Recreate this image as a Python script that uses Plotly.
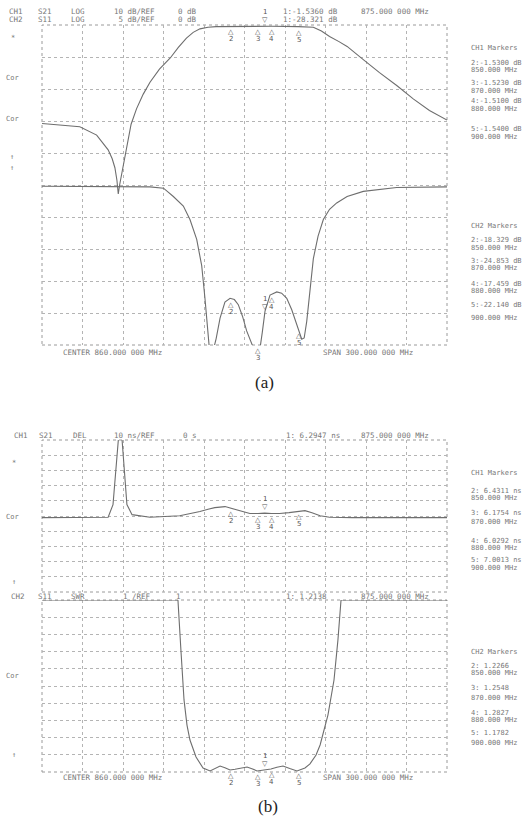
import numpy as np
import plotly.graph_objects as go

W, H = 532, 820

# ---------------- data ----------------
f_start, f_stop = 710.0, 1010.0          # CENTER 860 MHz, SPAN 300 MHz
marker_freqs = [875, 850, 870, 880, 900]
marker_names = ["1", "2", "3", "4", "5"]

# (a) CH1 S21 LOG 10 dB/div
freq_s21_a = [710, 738, 750.5, 759, 762, 764, 765.5, 766.5, 767.5, 769, 772.7, 776, 780, 785, 790, 797,
              805, 811, 817, 822, 827, 833, 839, 860, 880, 900, 911, 917, 923, 930, 936, 948,
              960, 973, 985, 997, 1010]
s21_a = [-30.8, -31.8, -34.4, -39.0, -41.8, -44.6, -48.5, -52.8, -50.0, -46.7, -37.4, -31.0, -26.2, -21.6,
         -17.9, -13.8, -10.3, -7.0, -4.1, -2.3, -1.2, -0.7, -0.5, -0.4, -0.4, -0.5, -0.7, -1.9, -3.6, -5.2,
         -6.7, -10.8, -14.9, -19.0, -23.1, -26.7, -29.7]

# (a) CH2 S11 LOG 5 dB/div
freq_s11_a = [710, 760, 790, 800, 807.3, 814.7, 819.6, 824.6, 828.3, 830.7, 832.5, 834, 836.9, 839,
              841.9, 845.5, 849.3, 852.5, 855.4, 858.5, 861.6, 864.5, 866.5, 869, 871.5, 873.2, 875.2,
              878.9, 883.9, 887.5, 891.3, 895, 898.7, 902.4, 904.2, 906.1, 908.5, 911, 914.5, 918.4,
              923, 928.3, 936, 948, 972.7, 1010]
s11_a = [-0.2, -0.2, -0.3, -0.5, -1.8, -3.3, -5.4, -8.5, -12.6, -17.7, -22.5, -25.6, -25.8, -24.0,
         -20.8, -18.3, -17.7, -17.9, -18.7, -20.5, -22.8, -24.4, -25.4, -25.8, -25.5, -23.0, -19.7,
         -17.2, -16.7, -16.9, -17.7, -19.5, -21.8, -24.1, -23.9, -21.3, -16.5, -11.5, -8.0, -5.4,
         -3.8, -2.8, -1.8, -1.0, -0.4, -0.3]

# (b) CH1 S21 DELAY 10 ns/div
freq_gd_b = [710, 740, 759, 762.6, 764.8, 767, 768.9, 770.7, 772.9, 776.7, 790, 812, 820, 827, 833,
             838, 845.6, 853, 860, 864, 870, 875, 880, 886, 893, 898, 904.8, 910, 916, 923, 940, 970, 1010]
gd_b = [5.9, 5.9, 6.2, 14.5, 37.5, 62.0, 62.0, 37.5, 14.5, 7.9, 6.2, 7.2, 8.4, 9.9, 11.5,
        12.5, 13.2, 11.2, 9.2, 8.6, 8.6, 8.9, 8.6, 8.6, 9.2, 9.9, 10.5, 9.2, 7.2, 6.2, 5.9, 5.9, 5.9]

# (b) CH2 S11 SWR 1/div
freq_swr_b = [710, 760, 805, 810.7, 812.9, 815.2, 817.4, 819.6, 824.1, 829.3, 834.5, 838, 841.9, 845.5,
              849.3, 853, 856.7, 861.9, 866, 869.3, 874.4, 879.6, 884, 888.5, 893.5, 898.9, 904.8,
              908.5, 913, 916, 921.8, 926.3, 929.2, 931.5, 960, 1010]
swr_b = [11, 11, 11, 11, 8.09, 5.19, 3.73, 2.86, 1.87, 1.23, 1.06, 1.2, 1.35, 1.25,
         1.12, 1.16, 1.23, 1.29, 1.18, 1.06, 1.12, 1.17, 1.28, 1.35, 1.2, 1.06, 1.23,
         1.47, 1.99, 2.57, 4.31, 6.35, 8.67, 11, 11, 11]

# text content
hdr_a1 = ["CH1", "S21", "LOG", "10 dB/REF", "0 dB", "1:-1.5360 dB", "875.000 000 MHz"]
hdr_a2 = ["CH2", "S11", "LOG", " 5 dB/REF", "0 dB", "1:-28.321 dB"]
hdr_b1 = ["CH1", "S21", "DEL", "10 ns/REF", "0 s", "1: 6.2947 ns", "875.000 000 MHz"]
hdr_b2 = ["CH2", "S11", "SWR", "1 /REF", "1", "1: 1.2138", "875.000 000 MHz"]
center_txt = "CENTER 860.000 000 MHz"
span_txt = "SPAN 300.000 000 MHz"

tab_a_ch1 = ["CH1 Markers", "2:-1.5300 dB", "850.000 MHz", "3:-1.5230 dB", "870.000 MHz",
             "4:-1.5100 dB", "880.000 MHz", "5:-1.5400 dB", "900.000 MHz"]
tab_a_ch2 = ["CH2 Markers", "2:-18.329 dB", "850.000 MHz", "3:-24.853 dB", "870.000 MHz",
             "4:-17.459 dB", "880.000 MHz", "5:-22.140 dB", "900.000 MHz"]
tab_b_ch1 = ["CH1 Markers", "2: 6.4311 ns", "850.000 MHz", "3: 6.1754 ns", "870.000 MHz",
             "4: 6.0292 ns", "880.000 MHz", "5: 7.0013 ns", "900.000 MHz"]
tab_b_ch2 = ["CH2 Markers", "2: 1.2266", "850.000 MHz", "3: 1.2548", "870.000 MHz",
             "4: 1.2827", "880.000 MHz", "5: 1.1782", "900.000 MHz"]

# ---------------- styling / layout ----------------
TR = "#6e6e6e"
GRID = "#b4b4b4"
TXT = "#777777"
MONO = "DejaVu Sans Mono"

fig = go.Figure()
fig.add_trace(go.Scatter(x=freq_s21_a, y=s21_a, xaxis="x", yaxis="y", mode="lines",
                         line=dict(color=TR, width=1.1), showlegend=False))
fig.add_trace(go.Scatter(x=freq_s11_a, y=s11_a, xaxis="x", yaxis="y2", mode="lines",
                         line=dict(color=TR, width=1.1), showlegend=False))
fig.add_trace(go.Scatter(x=freq_gd_b, y=gd_b, xaxis="x2", yaxis="y3", mode="lines",
                         line=dict(color=TR, width=1.1), showlegend=False))
fig.add_trace(go.Scatter(x=freq_swr_b, y=swr_b, xaxis="x3", yaxis="y4", mode="lines",
                         line=dict(color=TR, width=1.1), showlegend=False))

xdom = [42 / W, 447 / W]


def py(ypx):
    return 1 - ypx / H


def xax(anchor):
    return dict(domain=xdom, range=[f_start, f_stop], anchor=anchor, tick0=f_start, dtick=30,
                showgrid=True, gridcolor=GRID, griddash="dot", gridwidth=1,
                showticklabels=False, ticks="", zeroline=False, showline=False, fixedrange=True)


def yax(dom, rng, dtick, tick0, anchor, grid=True):
    return dict(domain=dom, range=rng, anchor=anchor, tick0=tick0, dtick=dtick,
                showgrid=grid, gridcolor=GRID, griddash="dot", gridwidth=1,
                showticklabels=False, ticks="", zeroline=False, showline=False, fixedrange=True)


layout = dict(
    width=W, height=H, margin=dict(l=0, r=0, t=0, b=0),
    paper_bgcolor="white", plot_bgcolor="white", showlegend=False,
    xaxis=xax("y"),
    yaxis=yax([py(345), py(25)], [-100, 0], 10, 0, "x"),
    yaxis2=dict(yax([py(345), py(25)], [-25, 25], 5, 0, "x", grid=False), overlaying="y"),
    xaxis2=xax("y3"),
    yaxis3=yax([py(592), py(440)], [-43, 57], 10, -43, "x2"),
    xaxis3=xax("y4"),
    yaxis4=yax([py(772), py(600)], [1, 11], 1, 1, "x3"),
)
fig.update_layout(**layout)

# grid borders
for xr, yr in [("x", "y"), ("x2", "y3"), ("x3", "y4")]:
    fig.add_shape(type="rect", xref=xr + " domain", yref=yr + " domain", x0=0, x1=1, y0=0, y1=1,
                  line=dict(color="#9a9a9a", width=1, dash="dot"), layer="below")

ann = []


def t(s, xpx, ypx, size=7, anchor="left", color=TXT, family=MONO):
    ann.append(dict(text=s, x=xpx / W, y=py(ypx), xref="paper", yref="paper", showarrow=False,
                    xanchor=anchor, yanchor="middle", borderpad=0,
                    font=dict(family=family, size=size, color=color)))


# headers
for s, x in zip(hdr_a1, [8, 37, 70, 113, 177, 282, 360]):
    t(s, x, 11, size=7.5)
for s, x in zip(hdr_a2, [8, 37, 70, 113, 177, 282]):
    t(s, x, 19, size=7.5)
for s, x in zip(hdr_b1, [13, 38, 72, 113, 182, 285, 360]):
    t(s, x, 435, size=7.5)
for s, x in zip(hdr_b2, [10, 37, 70, 122, 175, 285, 360]):
    t(s, x, 596, size=7.5)

# center / span
for yv in (353, 777):
    t(center_txt, 62, yv, size=7.5)
    t(span_txt, 322, yv, size=7.5)

# left annotations
for s, x, yv in [("*", 10, 38), ("Cor", 5, 78), ("Cor", 5, 119), ("\u2191", 9, 157), ("\u2191", 9, 168),
                 ("*", 11, 463), ("Cor", 5, 517), ("\u2191", 11, 582), ("Cor", 5, 676), ("\u2191", 11, 755)]:
    t(s, x, yv)

# marker tables
for tab, ys in [(tab_a_ch1, [48, 63, 70, 83, 91, 101, 109, 129, 137]),
                (tab_a_ch2, [226, 240, 248, 261, 268, 284, 291, 305, 318]),
                (tab_b_ch1, [473, 491, 498, 513, 522, 541, 548, 560, 568]),
                (tab_b_ch2, [652, 666, 673, 688, 698, 713, 720, 733, 743])]:
    for s, yv in zip(tab, ys):
        t(s, 470, yv, size=7)

# captions
t("(a)", 264, 382, size=17, anchor="center", color="#222", family="Liberation Serif")
t("(b)", 268, 806, size=17, anchor="center", color="#222", family="Liberation Serif")


# trace markers (positions from data via interpolation)
def add_markers(freqs, vals, xr, yr, rng):
    for name, f in zip(marker_names, marker_freqs):
        v = float(np.clip(np.interp(f, freqs, vals), rng[0], rng[1]))
        if name == "1":
            items = [("\u25BD", 6), ("1", 14)]
        else:
            items = [("\u25B3", -6), (name, -13)]
        for s, sh in items:
            ann.append(dict(text=s, x=f, y=v, xref=xr, yref=yr, showarrow=False, yshift=sh,
                            xanchor="center", yanchor="middle",
                            font=dict(family="DejaVu Sans", size=7, color="#555")))


add_markers(freq_s21_a, s21_a, "x", "y", [-100, 0])
add_markers(freq_s11_a, s11_a, "x", "y2", [-25, 25])
add_markers(freq_gd_b, gd_b, "x2", "y3", [-43, 57])
add_markers(freq_swr_b, swr_b, "x3", "y4", [1, 11])

fig.update_layout(annotations=ann)
fig.write_html(
    "out.html",
    config={"displayModeBar": False},
    post_script="document.body.style.margin='0';document.body.style.overflow='hidden';",
)
